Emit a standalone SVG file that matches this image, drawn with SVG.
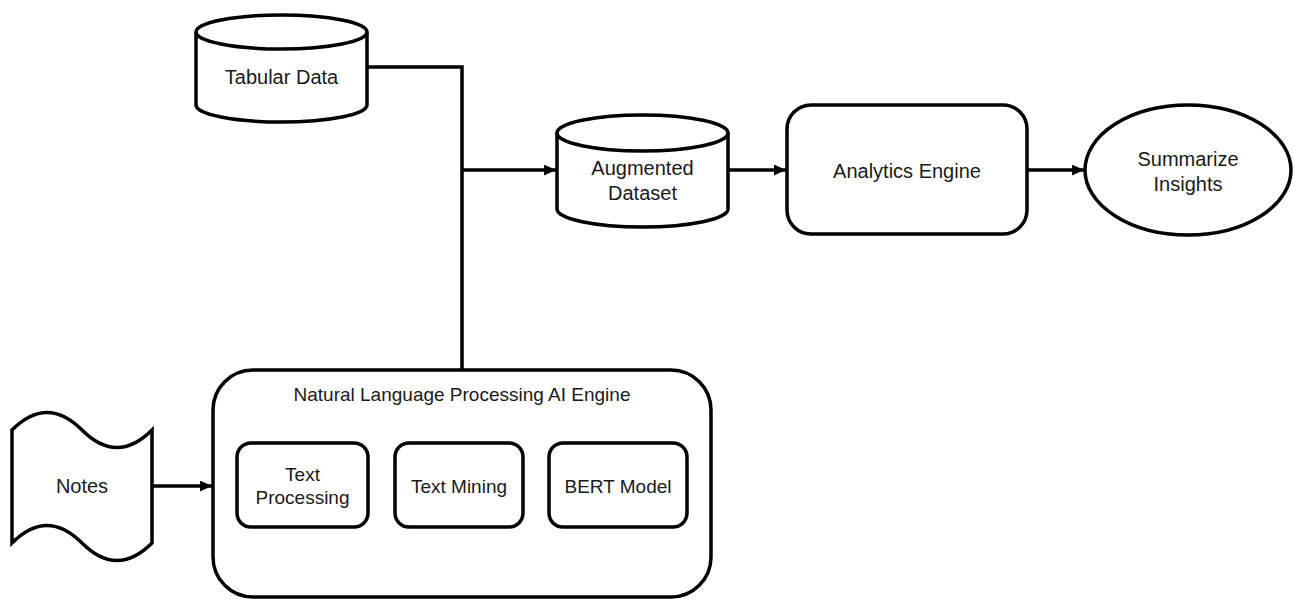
<svg xmlns="http://www.w3.org/2000/svg" width="1294" height="599" viewBox="0 0 1294 599">
<style>
.s{fill:#fff;stroke:#000;stroke-width:3.5}
.e{fill:none;stroke:#000;stroke-width:3.5}
.t{font-family:"Liberation Sans",Arial,sans-serif;font-size:20px;fill:#1a1a1a;text-anchor:middle}
.ti{font-family:"Liberation Sans",Arial,sans-serif;font-size:19px;fill:#1a1a1a;text-anchor:middle}
</style>
<defs>
<marker id="a" viewBox="0 0 12 11" refX="12" refY="5.5" markerWidth="12" markerHeight="11" markerUnits="userSpaceOnUse" orient="auto">
<path d="M0,0 L12,5.5 L0,11 z" fill="#000"/>
</marker>
</defs>
<rect width="1294" height="599" fill="#fff"/>
<g id="connectors">
<path class="e" d="M366,67 H462 V370"/>
<path class="e" d="M462,170 H556" marker-end="url(#a)"/>
<path class="e" d="M728,170 H786" marker-end="url(#a)"/>
<path class="e" d="M1027,170 H1084" marker-end="url(#a)"/>
<path class="e" d="M152,486 H212" marker-end="url(#a)"/>
<path class="e" d="M368,486 H394" marker-end="url(#a)"/>
<path class="e" d="M523,486 H548" marker-end="url(#a)"/>
</g>
<g id="tabular-data">
<path class="s" d="M196,32 A85.5,17 0 0 1 367,32 V105 A85.5,17 0 0 1 196,105 Z"/>
<path class="e" d="M196,32 A85.5,17 0 0 0 367,32"/>
<text class="t" x="281.5" y="84">Tabular Data</text>
</g>
<g id="augmented-dataset">
<path class="s" d="M557,133 A85.5,18 0 0 1 728,133 V209 A85.5,18 0 0 1 557,209 Z"/>
<path class="e" d="M557,133 A85.5,18 0 0 0 728,133"/>
<text class="t" x="642.5" y="175">Augmented</text>
<text class="t" x="642.5" y="200">Dataset</text>
</g>
<g id="analytics-engine">
<rect class="s" x="787" y="105" width="240" height="129" rx="24"/>
<text class="t" x="907" y="178">Analytics Engine</text>
</g>
<g id="summarize-insights">
<ellipse class="s" cx="1188" cy="170" rx="103" ry="65"/>
<text class="t" x="1188" y="166">Summarize</text>
<text class="t" x="1188" y="191">Insights</text>
</g>
<g id="nlp-engine">
<rect class="s" x="213" y="370" width="498" height="227" rx="40"/>
<text class="ti" x="462" y="401">Natural Language Processing AI Engine</text>
</g>
<g id="notes">
<path class="s" d="M12,430 Q47,395 82,430 Q117,465 152,430 V543 Q117,578 82,543 Q47,508 12,543 Z"/>
<text class="t" x="82" y="493">Notes</text>
</g>
<g id="text-processing">
<rect class="s" x="237" y="443" width="131" height="84" rx="14"/>
<text class="ti" x="302.5" y="481">Text</text>
<text class="ti" x="302.5" y="504">Processing</text>
</g>
<g id="text-mining">
<rect class="s" x="395" y="443" width="128" height="84" rx="14"/>
<text class="ti" x="459" y="493">Text Mining</text>
</g>
<g id="bert-model">
<rect class="s" x="549" y="443" width="138" height="84" rx="14"/>
<text class="ti" x="618" y="493">BERT Model</text>
</g>
</svg>
